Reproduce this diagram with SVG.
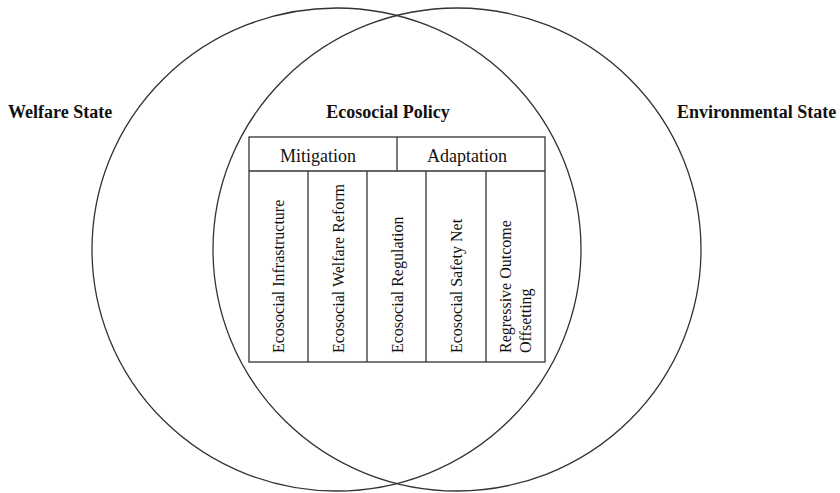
<svg xmlns="http://www.w3.org/2000/svg" width="840" height="493" viewBox="0 0 840 493">
<style>
.c{fill:none;stroke:#333;stroke-width:1.3}
.b{fill:none;stroke:#333;stroke-width:1.3}
.t{font-family:"Liberation Serif","Times New Roman",serif;fill:#111}
.h{font-size:18px;font-weight:bold}
.m{font-size:18px}
.v{font-size:16px}
</style>
<rect width="840" height="493" fill="#fff"/>
<g id="welfare-state">
<ellipse class="c" cx="336.5" cy="249.5" rx="244.5" ry="241.5"/>
<text class="t h" x="8" y="118">Welfare State</text>
</g>
<g id="environmental-state">
<ellipse class="c" cx="457" cy="249.5" rx="244" ry="241.5"/>
<text class="t h" x="677" y="118">Environmental State</text>
</g>
<g id="ecosocial-policy">
<text class="t h" x="388" y="118" text-anchor="middle">Ecosocial Policy</text>
<rect class="b" x="249" y="137" width="296" height="225" fill="#fff"/>
<line class="b" x1="249" y1="171" x2="545" y2="171"/>
<line class="b" x1="397" y1="137" x2="397" y2="171"/>
<line class="b" x1="308" y1="171" x2="308" y2="362"/>
<line class="b" x1="367" y1="171" x2="367" y2="362"/>
<line class="b" x1="426" y1="171" x2="426" y2="362"/>
<line class="b" x1="486" y1="171" x2="486" y2="362"/>
</g>
<g id="mitigation"><text class="t m" x="318" y="161.5" text-anchor="middle">Mitigation</text></g>
<g id="adaptation"><text class="t m" x="467" y="161.5" text-anchor="middle">Adaptation</text></g>
<g id="ecosocial-infrastructure"><text class="t v" transform="translate(284,353) rotate(-90)">Ecosocial Infrastructure</text></g>
<g id="ecosocial-welfare-reform"><text class="t v" transform="translate(343.5,353) rotate(-90)">Ecosocial Welfare Reform</text></g>
<g id="ecosocial-regulation"><text class="t v" transform="translate(402.5,353) rotate(-90)">Ecosocial Regulation</text></g>
<g id="ecosocial-safety-net"><text class="t v" transform="translate(462,353) rotate(-90)">Ecosocial Safety Net</text></g>
<g id="regressive-outcome-offsetting"><text class="t v" transform="translate(511,353) rotate(-90)"><tspan x="0" y="0">Regressive Outcome</tspan><tspan x="0" y="20">Offsetting</tspan></text></g>
<g id="connectors"></g>
</svg>
